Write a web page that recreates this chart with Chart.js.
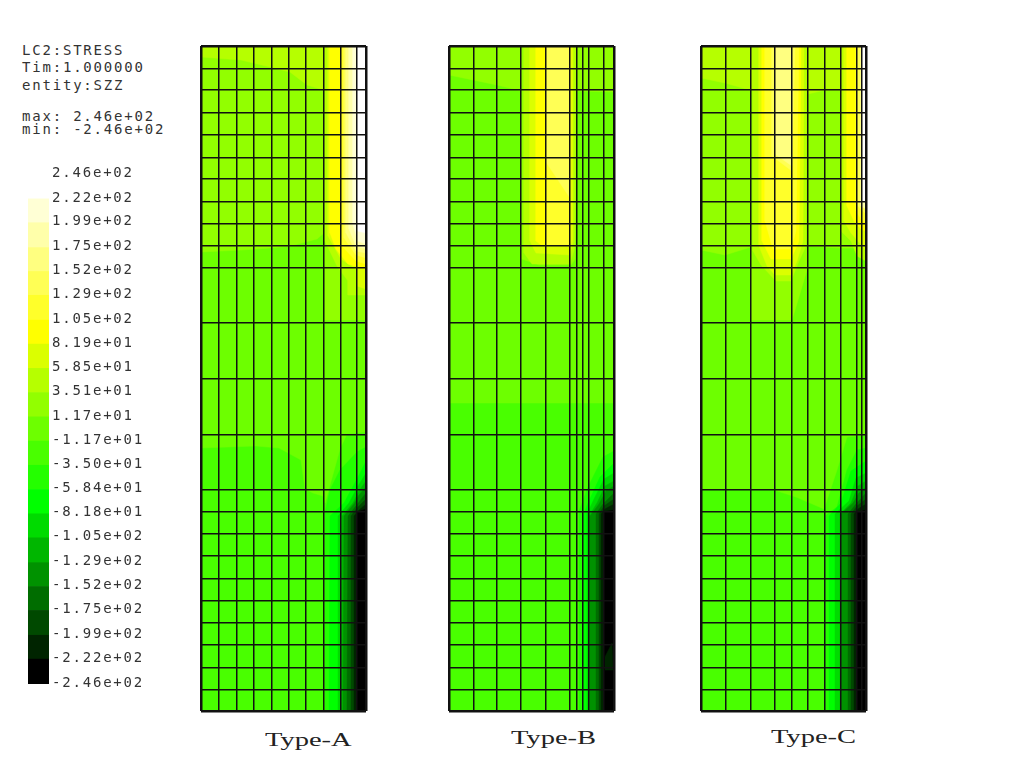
<!DOCTYPE html>
<html>
<head>
<meta charset="utf-8">
<title>LC2 STRESS SZZ</title>
<script src="https://cdn.jsdelivr.net/npm/chart.js@4/dist/chart.umd.min.js"></script>
<style>
  html, body { margin: 0; padding: 0; background: #fff; overflow: hidden; }
  canvas { position: absolute; }
  #legendBar { left: 0; top: 150px; }
  #panelA { left: 199px; top: 44px; }
  #panelB { left: 447px; top: 44px; }
  #panelC { left: 699px; top: 44px; }
  .info { position: absolute; left: 22px; color: #333; font: 14px/14px 'DejaVu Sans Mono', monospace; letter-spacing: 1.8px; white-space: pre; }
  .type { position: absolute; color: #222; font: 19px/20px 'Liberation Serif', serif; transform: scaleX(1.5); transform-origin: left; white-space: pre; }
</style>
</head>
<body>
<div class="info" style="top:43px">LC2:STRESS</div>
<div class="info" style="top:60px">Tim:1.000000</div>
<div class="info" style="top:78px">entity:SZZ</div>
<div class="info" style="top:109px">max: 2.46e+02</div>
<div class="info" style="top:122px">min: -2.46e+02</div>
<canvas id="legendBar" width="149" height="550"></canvas>
<canvas id="panelA" width="169" height="669"></canvas>
<canvas id="panelB" width="169" height="669"></canvas>
<canvas id="panelC" width="169" height="669"></canvas>
<div class="type" style="left:265px;top:730px">Type-A</div>
<div class="type" style="left:511px;top:728px">Type-B</div>
<div class="type" style="left:771px;top:727px">Type-C</div>
<script>
// Contour levels, top of the legend first
const tickLabels = ['2.46e+02','2.22e+02','1.99e+02','1.75e+02','1.52e+02','1.29e+02','1.05e+02','8.19e+01','5.85e+01','3.51e+01','1.17e+01','-1.17e+01','-3.50e+01','-5.84e+01','-8.18e+01','-1.05e+02','-1.29e+02','-1.52e+02','-1.75e+02','-1.99e+02','-2.22e+02','-2.46e+02'];

// Band colours, index 0 = lowest band (black), 20 = highest (white)
const palette = ['#000000','#002400','#004900','#006d00','#009200','#00b600','#00db00','#00ff00','#24ff00','#49ff00','#6dff00','#92ff00','#b6ff00','#dbff00','#ffff00','#ffff2a','#ffff55','#ffff80','#ffffaa','#ffffd5','#ffffff'];

// Mesh lines in model units (x from the left edge, y from the bottom edge)
const meshY = [0,21.7,43.7,66.7,88.7,110.7,132.7,155.3,177.3,199.3,221,276.7,332.7,388.3,443.7,465.3,487.3,509.3,532,553.7,576,598,621,642.7,665];
const meshXA = [0,18,35.3,52.3,70.7,87.7,104.7,123,139.7,156,165];
const meshXB = [0,24.3,48,72,97,121,127.7,133.3,139.3,155,165];
const meshXC = [0,24.3,49.7,73.7,90.7,106.7,124,139.7,155.7,161,165];

// Contour patches: [band, outline], painted in order
const patchesA = [
  [9, [[0,0],[0,665],[165,665],[165,0]]],
  [10, [[0,665],[0,263],[55,265],[78,263],[100,251],[104,222],[112,218],[122,215],[124,208],[139,262],[146,277],[165,279],[165,665]]],
  [11, [[0,665],[0,459],[40,461],[69,463],[89,465],[116,472],[124,479],[124,391],[165,391],[165,665]]],
  [12, [[0,665],[0,654],[40,651],[69,644],[89,639],[106,626],[123,621],[124,665]]],
  [12, [[124,665],[124,470],[136,445],[147,430],[147,416],[165,416],[165,665]]],
  [13, [[127,665],[127,475],[140,452],[155,442],[156,425],[165,422],[165,665]]],
  [14, [[129,665],[129,478],[135,462],[147,447],[165,442],[165,665]]],
  [15, [[141,665],[141,465],[155,450],[165,447],[165,665]]],
  [16, [[143,665],[143,473],[155,456],[165,453],[165,665]]],
  [17, [[145,665],[145,478],[155,460],[165,458],[165,665]]],
  [18, [[148,665],[148,482],[155,465],[165,462],[165,665]]],
  [19, [[152,665],[152,486],[157,470],[165,467],[165,665]]],
  [20, [[156.5,665],[156.5,480],[165,478],[165,665]]],
  [8, [[124,0],[124,199],[129,221],[139,241],[156,259],[165,264],[165,0]]],
  [7, [[128,0],[129,195],[143,208],[156,232],[165,250],[165,0]]],
  [6, [[137,0],[137,195],[148,208],[157,225],[165,238],[165,0]]],
  [5, [[140,0],[141,195],[152,208],[158,220],[165,230],[165,0]]],
  [4, [[142,0],[143,195],[153,207],[158,216],[165,224],[165,0]]],
  [3, [[146,0],[147,195],[155,205],[165,218],[165,0]]],
  [2, [[150,0],[150,195],[156,203],[165,212],[165,0]]],
  [1, [[153,0],[153,195],[157,200],[165,207],[165,0]]],
  [0, [[156,0],[156,199],[165,202],[165,0]]]
];

const patchesB = [
  [9, [[0,0],[0,665],[165,665],[165,0]]],
  [10, [[0,665],[0,308],[165,308],[165,665]]],
  [11, [[0,665],[0,636],[48,626],[73,620],[73,452],[90,446],[122,446],[126,452],[128,620],[165,619],[165,665]]],
  [12, [[75,665],[75,458],[83,447],[121,447],[126,465],[127,665]]],
  [13, [[81,665],[81,470],[87,458],[121,456],[124,470],[124,665]]],
  [14, [[87,665],[87,470],[92,466],[121,466],[122,470],[122,665]]],
  [15, [[97,665],[97,466],[121,466],[121,665]]],
  [16, [[97,665],[97,549],[121,513],[121,665]]],
  [8, [[130,0],[130,200],[139,224],[154,254],[165,260],[165,0]]],
  [7, [[134,0],[134,195],[139,208],[151,234],[165,248],[165,0]]],
  [6, [[138,0],[138,197],[145,212],[155,232],[165,238],[165,0]]],
  [5, [[140,0],[140,195],[148,208],[156,225],[165,230],[165,0]]],
  [4, [[141,0],[141,195],[150,207],[157,220],[165,225],[165,0]]],
  [3, [[147,0],[147,197],[154,207],[165,218],[165,0]]],
  [2, [[150,0],[150,197],[155,205],[165,212],[165,0]]],
  [1, [[152,0],[152,197],[156,202],[165,207],[165,0]]],
  [0, [[154.5,0],[154.5,199],[165,201],[165,0]]],
  [1, [[156,54],[163,68],[164,41],[156,41]]]
];

const patchesC = [
  [9, [[0,0],[0,665],[165,665],[165,0]]],
  [10, [[0,665],[0,222],[70,222],[95,214],[109,208],[123,202],[136,241],[146,274],[165,276],[165,665]]],
  [11, [[0,665],[0,461],[24,456],[50,464],[50,391],[91,391],[106,441],[107,465],[139,463],[165,463],[165,665]]],
  [12, [[0,665],[0,633],[24,628],[49,621],[107,617],[124,621],[140,621],[140,665]]],
  [12, [[52,665],[52,460],[60,446],[75,430],[90,430],[98,450],[105,465],[106,665]]],
  [13, [[58,665],[58,465],[66,445],[74,436],[90,436],[96,450],[102,470],[103,665]]],
  [14, [[61,665],[61,470],[70,452],[90,452],[98,470],[100,665]]],
  [15, [[64,665],[64,490],[72,462],[90,462],[95,480],[98,665]]],
  [16, [[71,665],[71,555],[91,540],[94,665]]],
  [17, [[74,665],[74,557],[91,545],[91,665]]],
  [12, [[140,665],[140,480],[150,470],[156,455],[165,450],[165,665]]],
  [13, [[143,665],[143,490],[150,478],[157,470],[165,460],[165,665]]],
  [14, [[146,665],[146,505],[153,490],[160,482],[165,480],[165,665]]],
  [15, [[155,665],[155,500],[160,492],[165,488],[165,665]]],
  [16, [[157,665],[157,505],[165,497],[165,665]]],
  [18, [[160,665],[160,505],[165,502],[165,665]]],
  [20, [[161.5,665],[161.5,510],[165,510],[165,665]]],
  [8, [[124,0],[124,195],[136,204],[146,241],[156,261],[165,263],[165,0]]],
  [7, [[128,0],[128,195],[140,208],[150,240],[165,250],[165,0]]],
  [6, [[134,0],[134,197],[148,210],[155,233],[165,238],[165,0]]],
  [5, [[139,0],[139,197],[150,208],[157,225],[165,230],[165,0]]],
  [4, [[140,0],[140,197],[152,208],[158,218],[165,224],[165,0]]],
  [3, [[147,0],[147,197],[155,207],[165,218],[165,0]]],
  [2, [[150,0],[150,197],[156,205],[165,212],[165,0]]],
  [1, [[153,0],[153,197],[157,202],[165,207],[165,0]]],
  [0, [[155.5,0],[155.5,199],[165,201],[165,0]]]
];

const tickValues = tickLabels.map(Number);
const monoFont = { family: "'DejaVu Sans Mono', monospace", size: 14 };

// Grid lines are the element mesh, drawn on top of the contours
function meshAxis(values) {
  return {
    type: 'linear',
    min: values[0],
    max: values[values.length - 1],
    afterBuildTicks: (scale) => { scale.ticks = values.map((v) => ({ value: v })); },
    ticks: { display: false, autoSkip: false },
    border: { display: false },
    grid: {
      z: 1,
      color: '#111',
      drawTicks: false,
      lineWidth: (c) => (c.index === 0 || c.index === values.length - 1 ? 2.5 : 1.5)
    }
  };
}

function drawPanel(id, meshX, patches) {
  new Chart(document.getElementById(id), {
    type: 'scatter',
    data: {
      // Chart.js paints the first dataset last, so the list goes in backwards
      datasets: patches.slice().reverse().map(([band, outline]) => ({
        data: outline.map(([x, y]) => ({ x, y })),
        showLine: true,
        fill: 'shape',
        backgroundColor: palette[band],
        borderColor: palette[band],
        borderWidth: 0.5,
        pointRadius: 0
      }))
    },
    options: {
      responsive: false,
      animation: false,
      events: [],
      layout: { padding: 2 },
      plugins: { legend: { display: false }, tooltip: { enabled: false } },
      scales: { x: meshAxis(meshX), y: meshAxis(meshY) }
    }
  });
}

drawPanel('panelA', meshXA, patchesA);
drawPanel('panelB', meshXB, patchesB);
drawPanel('panelC', meshXC, patchesC);

// Legend: one floating bar per band on a value axis
const lows = tickValues.slice(1).reverse();
const highs = tickValues.slice(0, -1).reverse();
new Chart(document.getElementById('legendBar'), {
  type: 'bar',
  data: {
    labels: ['SZZ'],
    datasets: lows.map((lo, i) => ({
      data: [[lo, highs[i]]],
      backgroundColor: palette[i],
      borderWidth: 0,
      grouped: false,
      barPercentage: 1,
      categoryPercentage: 1
    }))
  },
  options: {
    responsive: false,
    animation: false,
    events: [],
    layout: { padding: { left: 28, top: 24, bottom: 16, right: 0 } },
    plugins: { legend: { display: false }, tooltip: { enabled: false } },
    scales: {
      x: { display: false },
      y: {
        position: 'right',
        min: -246,
        max: 246,
        afterBuildTicks: (scale) => { scale.ticks = tickValues.map((v) => ({ value: v })); },
        afterFit: (scale) => { scale.width = 100; },
        grid: { display: false, drawTicks: false },
        border: { display: false },
        ticks: {
          autoSkip: false,
          padding: 3,
          labelOffset: -1,
          color: '#333',
          font: monoFont,
          callback: (v, i) => tickLabels[i]
        }
      }
    }
  },
  plugins: [{
    id: 'wideText',
    beforeDraw: (chart) => { chart.ctx.letterSpacing = '1.8px'; }
  }]
});
</script>
</body>
</html>
